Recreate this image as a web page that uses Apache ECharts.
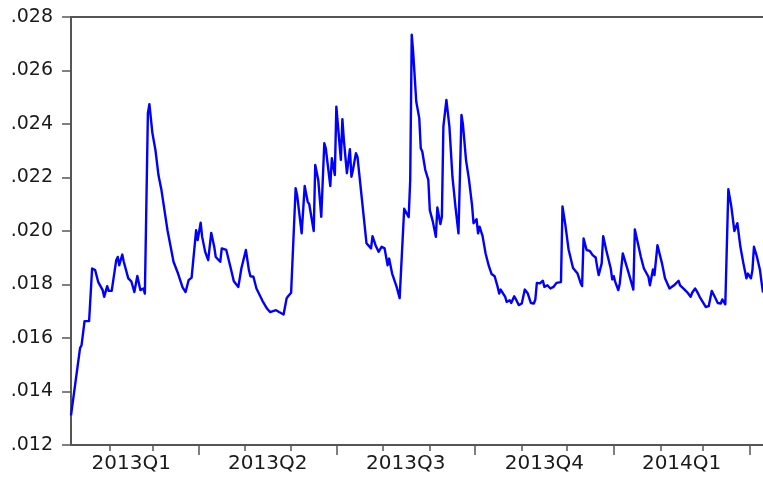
<!DOCTYPE html>
<html>
<head>
<meta charset="utf-8">
<script src="https://cdn.jsdelivr.net/npm/echarts@6/dist/echarts.min.js"></script>
<style>
html,body{margin:0;padding:0;background:#fff;}
#chart{width:763px;height:481px;}
</style>
</head>
<body>
<div id="chart"></div>
<script>
// Days elapsed since 2013-01-01 for each observation
var dayOffsets = [
  5, 11, 12, 14, 15, 17, 19, 21, 23, 26, 27, 28, 29, 30, 32, 35, 36, 37, 39, 40,
  43, 45, 47, 49, 51, 53, 54, 56, 57, 59, 61, 63, 65, 69, 73, 76, 79, 80, 81, 83,
  85, 88, 89, 91, 92, 94, 96, 98, 100, 101, 102, 104, 105, 108, 111, 113, 116, 118, 121, 123,
  124, 126, 128, 132, 135, 137, 141, 143, 146, 148, 149, 151, 154, 155, 158, 160, 162, 163, 166, 167,
  169, 171, 173, 174, 177, 178, 180, 181, 184, 185, 186, 188, 190, 191, 192, 194, 195, 198, 201, 204,
  205, 207, 209, 211, 213, 215, 216, 218, 221, 223, 226, 227, 229, 230, 231, 232, 234, 236, 237, 238,
  240, 242, 243, 245, 247, 248, 250, 251, 252, 254, 256, 258, 260, 262, 264, 265, 267, 269, 271, 272,
  274, 275, 276, 278, 280, 282, 284, 286, 288, 289, 290, 293, 294, 296, 297, 299, 301, 302, 304, 305,
  306, 308, 310, 312, 313, 314, 316, 318, 319, 321, 323, 325, 327, 330, 331, 333, 335, 338, 341, 343,
  344, 345, 347, 349, 351, 353, 354, 355, 357, 358, 360, 363, 364, 365, 366, 368, 369, 371, 372, 375,
  378, 379, 381, 383, 385, 388, 389, 391, 392, 394, 395, 397, 399, 402, 403, 405, 406, 408, 409, 410,
  412, 414, 416, 417, 419, 420, 422, 424, 426, 428, 430, 432, 434, 436, 437, 439, 440, 441, 443, 445,
  447, 449, 451, 453, 454, 456, 457, 458, 460, 462, 463, 464
];
var values = [
  0.01311, 0.01562, 0.01573, 0.01663, 0.01670, 0.01663, 0.01860, 0.01854, 0.01810, 0.01779,
  0.01754, 0.01754, 0.01794, 0.01776, 0.01776, 0.01891, 0.01903, 0.01872, 0.01912, 0.01885,
  0.01823, 0.01812, 0.01772, 0.01832, 0.01779, 0.01785, 0.01766, 0.02440, 0.02474, 0.02366,
  0.02303, 0.02209, 0.02153, 0.02003, 0.01885, 0.01841, 0.01789, 0.01785, 0.01772, 0.01816,
  0.01826, 0.02003, 0.01966, 0.02031, 0.01978, 0.01922, 0.01891, 0.01993, 0.01941, 0.01903,
  0.01906, 0.01885, 0.01935, 0.01929, 0.01860, 0.01812, 0.01791, 0.01860, 0.01929, 0.01854,
  0.01831, 0.01829, 0.01785, 0.01739, 0.01710, 0.01697, 0.01704, 0.01697, 0.01688, 0.01748,
  0.01756, 0.01769, 0.02160, 0.02134, 0.01991, 0.02168, 0.02109, 0.02101, 0.02000, 0.02247,
  0.02191, 0.02053, 0.02328, 0.02309, 0.02168, 0.02272, 0.02209, 0.02465, 0.02266, 0.02418,
  0.02340, 0.02216, 0.02306, 0.02203, 0.02228, 0.02291, 0.02278, 0.02116, 0.01954, 0.01935,
  0.01981, 0.01947, 0.01922, 0.01941, 0.01935, 0.01872, 0.01897, 0.01841, 0.01791, 0.01749,
  0.02083, 0.02077, 0.02052, 0.02191, 0.02734, 0.02665, 0.02484, 0.02422, 0.02309, 0.02297,
  0.02228, 0.02191, 0.02078, 0.02035, 0.01978, 0.02088, 0.02026, 0.02053, 0.02390, 0.02490,
  0.02390, 0.02203, 0.02091, 0.01991, 0.02434, 0.02397, 0.02266, 0.02191, 0.02097, 0.02029,
  0.02044, 0.01991, 0.02016, 0.01981, 0.01916, 0.01872, 0.01839, 0.01831, 0.01791, 0.01766,
  0.01781, 0.01754, 0.01735, 0.01741, 0.01731, 0.01756, 0.01735, 0.01723, 0.01729, 0.01726,
  0.01781, 0.01766, 0.01731, 0.01729, 0.01744, 0.01806, 0.01804, 0.01814, 0.01791, 0.01797,
  0.01785, 0.01791, 0.01806, 0.01809, 0.02092, 0.02019, 0.01932, 0.01862, 0.01841, 0.01806,
  0.01794, 0.01972, 0.01929, 0.01926, 0.01910, 0.01901, 0.01866, 0.01835, 0.01879, 0.01981,
  0.01929, 0.01860, 0.01819, 0.01831, 0.01810, 0.01779, 0.01804, 0.01916, 0.01910, 0.01841,
  0.01781, 0.02006, 0.01954, 0.01903, 0.01860, 0.01829, 0.01797, 0.01856, 0.01835, 0.01947,
  0.01941, 0.01879, 0.01823, 0.01785, 0.01779, 0.01797, 0.01791, 0.01814, 0.01797, 0.01804,
  0.01781, 0.01769, 0.01754, 0.01769, 0.01785, 0.01776, 0.01754, 0.01735, 0.01716, 0.01719,
  0.01776, 0.01754, 0.01731, 0.01729, 0.01744, 0.01726, 0.01719, 0.02156, 0.02091, 0.02000,
  0.02029, 0.01941, 0.01879, 0.01823, 0.01841, 0.01823, 0.01854, 0.01941, 0.01903, 0.01854,
  0.01810, 0.01770
];
var quarterLabels = ['2013Q1', '2013Q2', '2013Q3', '2013Q4', '2014Q1'];
// quarter mid-points (days since 2013-01-01) where the labels sit
var quarterMidDays = [45, 135.5, 227, 319, 410];
// month starts [year, monthIndex] for small ticks, quarter starts for long ticks
var monthStarts = [[2013,1],[2013,2],[2013,3],[2013,4],[2013,5],[2013,6],[2013,7],[2013,8],[2013,9],[2013,10],[2013,11],[2014,0],[2014,1],[2014,2],[2014,3]];
var quarterStarts = [[2013,3],[2013,6],[2013,9],[2014,0],[2014,3]];
var axisStartDay = 5, axisEndDay = 464;

var DAY = 86400000;
var base = Date.UTC(2013, 0, 1);
function ymToDay(p) { return Math.round((Date.UTC(p[0], p[1], 1) - base) / DAY); }

var seriesData = dayOffsets.map(function (d, i) { return [d, values[i]]; });
var monthTicks = monthStarts.map(ymToDay);
var quarterTicks = quarterStarts.map(ymToDay);

var axisColor = '#555555';
var chart = echarts.init(document.getElementById('chart'));
chart.setOption({
  animation: false,
  backgroundColor: '#ffffff',
  grid: { left: 71, right: 0, top: 17, bottom: 36, containLabel: false },
  xAxis: [
    {
      type: 'value', position: 'bottom',
      min: axisStartDay, max: axisEndDay,
      axisLine: { show: true, onZero: false, lineStyle: { color: axisColor, width: 2 } },
      axisTick: { show: true, customValues: monthTicks, length: 6, inside: false, lineStyle: { color: axisColor, width: 1.5 } },
      axisLabel: {
        show: true, customValues: quarterMidDays, margin: 9,
        fontFamily: 'DejaVu Sans', fontSize: 20, color: '#1a1a1a',
        formatter: function (val) {
          var best = 0, bd = Infinity;
          for (var i = 0; i < quarterMidDays.length; i++) {
            var dd = Math.abs(quarterMidDays[i] - val);
            if (dd < bd) { bd = dd; best = i; }
          }
          return quarterLabels[best];
        }
      },
      splitLine: { show: false }
    },
    {
      type: 'value', position: 'bottom',
      min: axisStartDay, max: axisEndDay,
      axisLine: { show: false, onZero: false },
      axisTick: { show: true, customValues: quarterTicks, length: 10, inside: false, lineStyle: { color: axisColor, width: 1.5 } },
      axisLabel: { show: false },
      splitLine: { show: false }
    },
    {
      type: 'value', position: 'top',
      min: axisStartDay, max: axisEndDay,
      axisLine: { show: true, onZero: false, lineStyle: { color: axisColor, width: 2 } },
      axisTick: { show: false },
      axisLabel: { show: false },
      splitLine: { show: false }
    }
  ],
  yAxis: {
    type: 'value', min: 0.012, max: 0.028, interval: 0.002,
    axisLine: { show: true, onZero: false, lineStyle: { color: axisColor, width: 2 } },
    axisTick: { show: true, length: 9, inside: false, lineStyle: { color: axisColor, width: 1.5 } },
    axisLabel: {
      margin: 18, fontFamily: 'DejaVu Sans', fontSize: 19, color: '#1a1a1a',
      formatter: function (v) { return v.toFixed(3).replace(/^0/, ''); }
    },
    splitLine: { show: false }
  },
  series: [{
    type: 'line', xAxisIndex: 0, yAxisIndex: 0,
    data: seriesData, showSymbol: false, symbol: 'none',
    lineStyle: { color: '#0000ff', width: 2.4, join: 'round' },
    clip: true
  }]
});
</script>
</body>
</html>
